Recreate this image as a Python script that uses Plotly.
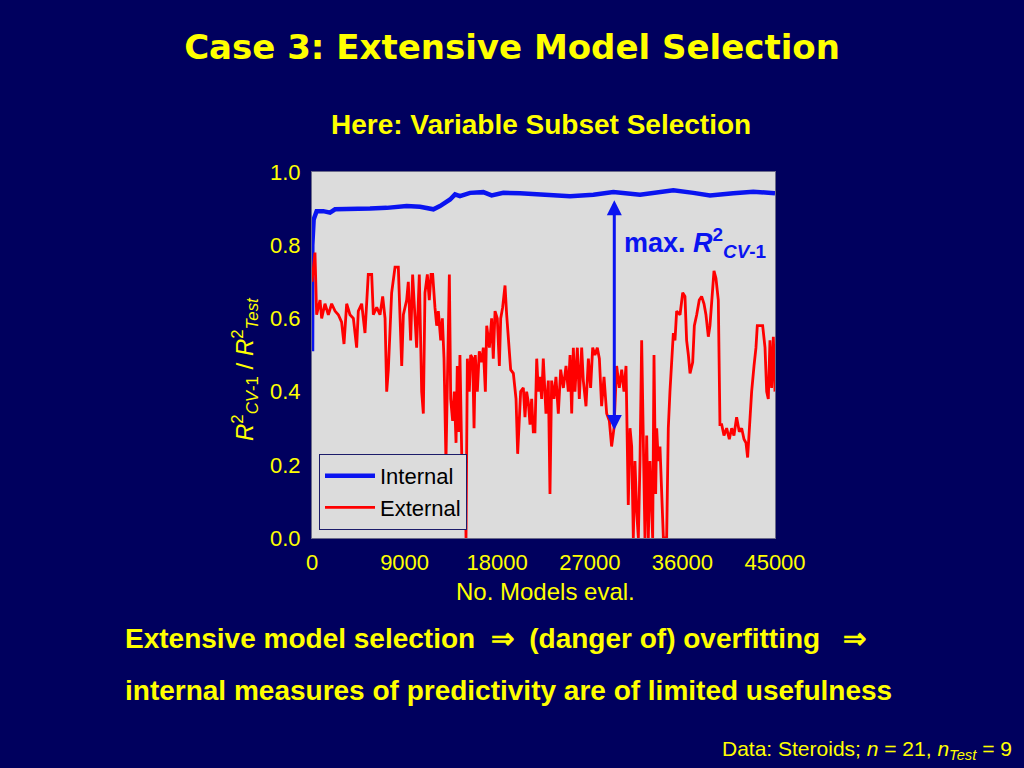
import plotly.graph_objects as go

# ---- data ----
internal_x = [0, 30, 160, 450, 1100, 1750, 2240, 4020, 5640, 7260, 9200, 10500, 11800,
              12440, 13420, 13900, 14380, 15360, 16650, 17460, 18600, 20220, 21510,
              25080, 27350, 29290, 31880, 35120, 37060, 38680, 40950, 42890, 45000]
internal_y = [0.51, 0.80, 0.87, 0.893, 0.893, 0.889, 0.898, 0.898, 0.900, 0.902, 0.907,
              0.905, 0.898, 0.907, 0.925, 0.939, 0.934, 0.943, 0.945, 0.936, 0.943,
              0.942, 0.940, 0.934, 0.938, 0.945, 0.938, 0.950, 0.943, 0.936, 0.942,
              0.946, 0.942]

external_x = [0, 100, 290, 450, 780, 940, 1260, 1590, 1910, 2240, 2560, 2880, 3110, 3370,
              3690, 4020, 4340, 4500, 4830, 5150, 5470, 5800, 5960, 6290, 6610, 6870,
              7100, 7260, 7420, 7740, 8070, 8390, 8550, 8720, 8880, 9200, 9360, 9590,
              9780, 10010, 10170, 10430, 10660, 10820, 10980, 11210, 11400, 11570, 11730,
              11950, 12120, 12280, 12510, 12670, 12830, 13020, 13150, 13350, 13480, 13670,
              13830, 14000, 14120, 14250, 14380, 14550, 14710, 14870, 14970, 15100, 15290,
              15420, 15620, 15750, 15870, 16070, 16260, 16490, 16650, 16850, 16980, 17240,
              17460, 17620, 17790, 18010, 18210, 18340, 18530, 18760, 18920, 19180, 19310,
              19570, 19830, 19990, 20280, 20540, 20700, 20860, 21030, 21190, 21350, 21510,
              21670, 21840, 22000, 22160, 22320, 22480, 22740, 22970, 23130, 23290, 23520,
              23710, 23940, 24170, 24430, 24690, 24910, 25080, 25240, 25400, 25560, 25790,
              25980, 26210, 26370, 26630, 26860, 27080, 27280, 27500, 27730, 27930, 28150,
              28380, 28640, 28900, 29120, 29350, 29610, 29870, 30100, 30320, 30520, 30740,
              30910, 31070, 31230, 31390, 31560, 31720, 31880, 32040, 32200, 32360, 32530,
              32690, 32850, 33110, 33240, 33400, 33500, 33660, 33820, 33980, 34150, 34470,
              34630, 34790, 34960, 35120, 35280, 35440, 35770, 36030, 36250, 36410, 36580,
              36740, 37000, 37160, 37390, 37640, 37870, 38100, 38290, 38520, 38680, 38840,
              39070, 39260, 39490, 39650, 39820, 40040, 40300, 40560, 40790, 41010, 41270,
              41530, 41760, 41990, 42180, 42340, 42500, 42730, 42960, 43150, 43280, 43540,
              43800, 44030, 44190, 44350, 44510, 44670, 44840, 45000]
external_y = [0.70, 0.73, 0.78, 0.61, 0.65, 0.60, 0.64, 0.61, 0.64, 0.62, 0.61, 0.59, 0.53,
              0.64, 0.61, 0.60, 0.52, 0.62, 0.64, 0.56, 0.72, 0.72, 0.61, 0.63, 0.61, 0.66,
              0.60, 0.40, 0.46, 0.67, 0.74, 0.74, 0.62, 0.47, 0.61, 0.65, 0.70, 0.54, 0.72,
              0.61, 0.52, 0.72, 0.40, 0.34, 0.67, 0.72, 0.65, 0.72, 0.72, 0.63, 0.58, 0.62,
              0.54, 0.60, 0.49, 0.21, 0.40, 0.72, 0.38, 0.32, 0.40, 0.26, 0.47, 0.29, 0.50,
              0.23, 0.12, 0.21, 0.0, 0.49, 0.40, 0.50, 0.49, 0.30, 0.50, 0.40, 0.51, 0.48,
              0.52, 0.40, 0.58, 0.52, 0.60, 0.49, 0.62, 0.60, 0.47, 0.60, 0.63, 0.69, 0.61,
              0.49, 0.46, 0.45, 0.38, 0.23, 0.40, 0.41, 0.33, 0.40, 0.37, 0.31, 0.38, 0.29,
              0.29, 0.49, 0.40, 0.44, 0.38, 0.49, 0.34, 0.43, 0.12, 0.43, 0.38, 0.44, 0.34,
              0.46, 0.41, 0.47, 0.40, 0.50, 0.34, 0.52, 0.40, 0.52, 0.38, 0.52, 0.43, 0.36,
              0.49, 0.41, 0.52, 0.50, 0.52, 0.49, 0.36, 0.44, 0.34, 0.32, 0.25, 0.30, 0.47,
              0.41, 0.46, 0.40, 0.47, 0.09, 0.30, 0.25, 0.0, 0.21, 0.07, 0.0, 0.21, 0.54,
              0.30, 0.0, 0.28, 0.0, 0.21, 0.0, 0.50, 0.12, 0.30, 0.21, 0.25, 0.12, 0.0, 0.0,
              0.30, 0.40, 0.49, 0.56, 0.54, 0.62, 0.61, 0.67, 0.66, 0.54, 0.50, 0.45, 0.48,
              0.58, 0.61, 0.65, 0.66, 0.64, 0.61, 0.55, 0.58, 0.65, 0.73, 0.71, 0.65, 0.31,
              0.31, 0.28, 0.30, 0.27, 0.30, 0.28, 0.33, 0.29, 0.30, 0.27, 0.26, 0.22, 0.30,
              0.40, 0.47, 0.52, 0.58, 0.58, 0.58, 0.52, 0.40, 0.38, 0.54, 0.41, 0.55, 0.40]

x_ticks = [0, 9000, 18000, 27000, 36000, 45000]
y_ticks = [0.0, 0.2, 0.4, 0.6, 0.8, 1.0]
y_tick_labels = ["0.0", "0.2", "0.4", "0.6", "0.8", "1.0"]

arrow_x = 29380
arrow_top = 0.927
arrow_bottom = 0.295

BG = "#00005e"
YEL = "#ffff00"
BLUE = "#0a14f0"
RED = "#ff0000"
ARIAL = "Liberation Sans, Arial, sans-serif"

fig = go.Figure()
fig.add_trace(go.Scatter(x=internal_x, y=internal_y, mode="lines", name="Internal",
                         line=dict(color=BLUE, width=4.5)))
fig.add_trace(go.Scatter(x=external_x, y=external_y, mode="lines", name="External",
                         line=dict(color=RED, width=2.8)))

def px_x(X):
    return (X - 312) / 463.0

def px_y(Y):
    return (538 - Y) / 366.0

annotations = [
    dict(text="<b>Here: Variable Subset Selection</b>", xref="paper", yref="paper",
         x=px_x(541), y=px_y(124), showarrow=False, xanchor="center", yanchor="middle",
         font=dict(family=ARIAL, size=28, color=YEL)),
    dict(text="<i>R</i><sup>2</sup><sub><i>CV</i>-1</sub> / <i>R</i><sup>2</sup><sub><i>Test</i></sub>",
         xref="paper", yref="paper", x=px_x(245), y=px_y(369), textangle=-90,
         showarrow=False, xanchor="center", yanchor="middle",
         font=dict(family=ARIAL, size=24, color=YEL)),
    dict(text="No. Models eval.", xref="paper", yref="paper", x=px_x(545), y=px_y(591),
         showarrow=False, xanchor="center", yanchor="middle",
         font=dict(family=ARIAL, size=24, color=YEL)),
    dict(text="<b>Extensive model selection  \u21d2  (danger of) overfitting   \u21d2</b>",
         xref="paper", yref="paper", x=px_x(123), y=px_y(638), showarrow=False,
         xanchor="left", yanchor="middle",
         font=dict(family=ARIAL, size=28, color=YEL)),
    dict(text="<b>internal measures of predictivity are of limited usefulness</b>",
         xref="paper", yref="paper", x=px_x(123), y=px_y(690), showarrow=False,
         xanchor="left", yanchor="middle",
         font=dict(family=ARIAL, size=28, color=YEL)),
    dict(text="Data: Steroids; <i>n</i> = 21, <i>n</i><sub><i>Test</i></sub> = 9",
         xref="paper", yref="paper", x=px_x(1014), y=px_y(750), showarrow=False,
         xanchor="right", yanchor="middle",
         font=dict(family=ARIAL, size=21, color=YEL)),
    dict(text="<b>max. <i>R</i><sup>2</sup><sub><i>CV</i>-1</sub></b>", xref="x", yref="y",
         x=30130, y=0.806, showarrow=False, xanchor="left", yanchor="middle",
         font=dict(family=ARIAL, size=27, color=BLUE)),
    dict(x=arrow_x, y=arrow_bottom, ax=arrow_x, ay=arrow_top, xref="x", yref="y",
         axref="x", ayref="y", text="", showarrow=True, arrowhead=2, arrowside="end+start",
         arrowwidth=3, arrowsize=1.0, arrowcolor=BLUE, standoff=0, startstandoff=0),
]

fig.update_layout(
    width=1024, height=768,
    paper_bgcolor=BG, plot_bgcolor="#dcdcdc",
    margin=dict(l=312, r=249, t=172, b=230),
    title=dict(text="<b>Case 3: Extensive Model Selection</b>", xref="paper", x=px_x(512),
               xanchor="center", yref="container", y=1 - 47 / 768, yanchor="middle",
               font=dict(family="DejaVu Sans, Verdana, sans-serif", size=34, color=YEL)),
    showlegend=True,
    legend=dict(x=px_x(319), y=px_y(530), xanchor="left", yanchor="bottom",
                bgcolor="#dcdcdc", bordercolor="#1c1c6a", borderwidth=1,
                font=dict(family=ARIAL, size=22, color="#000000"),
                tracegroupgap=0, itemwidth=50),
    annotations=annotations,
)
fig.update_xaxes(range=[0, 45000], tickvals=x_ticks, ticktext=[str(v) for v in x_ticks],
                 showgrid=False, zeroline=False, ticks="", ticklabelstandoff=5,
                 tickfont=dict(family=ARIAL, size=22, color=YEL),
                 showline=True, linecolor="#6a6a8a", linewidth=1, mirror=True)
fig.update_yaxes(range=[0, 1.0], tickvals=y_ticks, ticktext=y_tick_labels,
                 showgrid=False, zeroline=False, ticks="", ticklabelstandoff=6,
                 tickfont=dict(family=ARIAL, size=22, color=YEL),
                 showline=True, linecolor="#6a6a8a", linewidth=1, mirror=True)

fig.write_html("out.html", config={"displayModeBar": False},
               post_script="document.body.style.margin='0';document.body.style.overflow='hidden';")
